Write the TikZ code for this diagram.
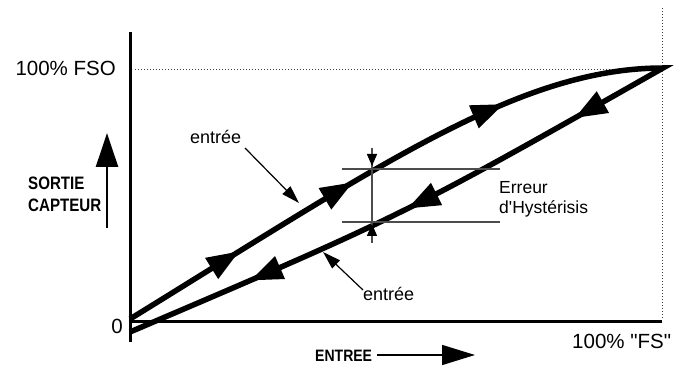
\documentclass[tikz,border=0pt]{standalone}
\usepackage{fontspec}
\usepackage{graphicx}
\newfontfamily\lib{Liberation Sans}
\usetikzlibrary{arrows.meta,decorations.markings}
\newcommand{\bighead}{\fill (4pt,0pt) -- (-28pt,12.5pt) -- (-28pt,-12.5pt) -- cycle;}
\begin{document}
\begin{tikzpicture}[x=1pt,y=-1pt,
  axis/.style={line width=3pt},
  curve/.style={line width=5.5pt, line join=miter},
  dots/.style={line width=1pt, dash pattern=on 1pt off 2pt, black!75},
  guide/.style={line width=1.4pt, black!70},
  ptr/.style={line width=1.2pt, -{Triangle[length=18pt,width=11pt]}},
  smallarr/.style={line width=1.4pt, black!70, -{Triangle[length=12pt,width=10pt,color=black]}},
  lbl/.style={inner sep=0pt, font=\lib\fontsize{20.5}{24}\selectfont},
  ann/.style={inner sep=0pt, font=\lib\fontsize{18}{20}\selectfont},
  ann2/.style={inner sep=0pt, font=\lib\fontsize{17.5}{20}\selectfont},
  boldlbl/.style={inner sep=0pt, font=\lib\bfseries\fontsize{18}{20}\selectfont},
]
\useasboundingbox (0,0) rectangle (675,366);

% axes
\coordinate (ytop) at (130,32);
\coordinate (ybot) at (130,342);
\coordinate (xstart) at (128.5,321);
\coordinate (xend) at (662,321);
\draw[axis] (ybot) -- (ytop);
\draw[axis] (xstart) -- (xend);

% dotted guides
\coordinate (d1) at (135,70);
\coordinate (d2) at (660,70);
\coordinate (v1) at (662,8);
\coordinate (v2) at (662,318);
\draw[dots] (d1) -- (d2);
\draw[dots] (v1) -- (v2);

% hysteresis loop
\coordinate (A) at (130,319);
\coordinate (B) at (663,68);
\coordinate (C) at (130,332);
\draw[curve, postaction={decorate}, decoration={markings,
    mark=at position 124pt with {\bighead},
    mark=at position 257pt with {\bighead},
    mark=at position 427pt with {\bighead},
    mark=at position 693pt with {\bighead},
    mark=at position 883pt with {\bighead},
    mark=at position 1056pt with {\bighead}}]
  (A) .. controls (380,165) and (520,68) .. (B)
      .. controls (404,215) .. (C);

% hysteresis error marker
\coordinate (h1) at (342,169);
\coordinate (h2) at (500,169);
\coordinate (h3) at (342,222);
\coordinate (h4) at (500,222);
\coordinate (vt) at (372,148);
\coordinate (vb) at (372,243);
\coordinate (tt) at (372,166);
\coordinate (tb) at (372,224);
\draw[guide] (h1) -- (h2);
\draw[guide] (h3) -- (h4);
\draw[guide] (vt) -- (vb);
\draw[smallarr] (vt) -- (tt);
\draw[smallarr] (vb) -- (tb);

% labels
\node[lbl, anchor=base east] (fso) at (116,76) {100\% FSO};
\node[lbl, anchor=base east] (zero) at (123,333) {0};
\node[lbl, anchor=base west] (fs) at (572,348) {100\% "FS"};
\node[boldlbl, anchor=base west] (sortie) at (28,190) {\scalebox{0.84}[1]{SORTIE}};
\node[boldlbl, anchor=base west] (capteur) at (28,211.7) {\scalebox{0.84}[1]{CAPTEUR}};
\node[boldlbl, anchor=base west, font=\lib\bfseries\fontsize{16.5}{20}\selectfont] (entree) at (315,361.7) {\scalebox{0.85}[1]{ENTREE}};
\node[ann, anchor=base west] (e1) at (190,143.5) {entrée};
\node[ann, anchor=base west] (e2) at (363,300) {entrée};
\node[ann2, anchor=base west] (err) at (499,194) {Erreur};
\node[ann2, anchor=base west] (hyst) at (499,213.5) {d'Hystérisis};

% axis label arrows
\coordinate (ya) at (107,228);
\coordinate (yb) at (107,133);
\draw[line width=2.5pt, -{Triangle[length=34pt,width=22pt]}] (ya) -- (yb);
\coordinate (xa) at (377,355);
\coordinate (xb) at (475,355);
\draw[line width=1.5pt, -{Triangle[length=33pt,width=20pt]}] (xa) -- (xb);

% pointers
\coordinate (p1s) at (245,148);
\coordinate (p1e) at (299,203);
\coordinate (p2s) at (363,290);
\coordinate (p2e) at (323,252);
\draw[ptr] (p1s) -- (p1e);
\draw[ptr] (p2s) -- (p2e);
\end{tikzpicture}
\end{document}
